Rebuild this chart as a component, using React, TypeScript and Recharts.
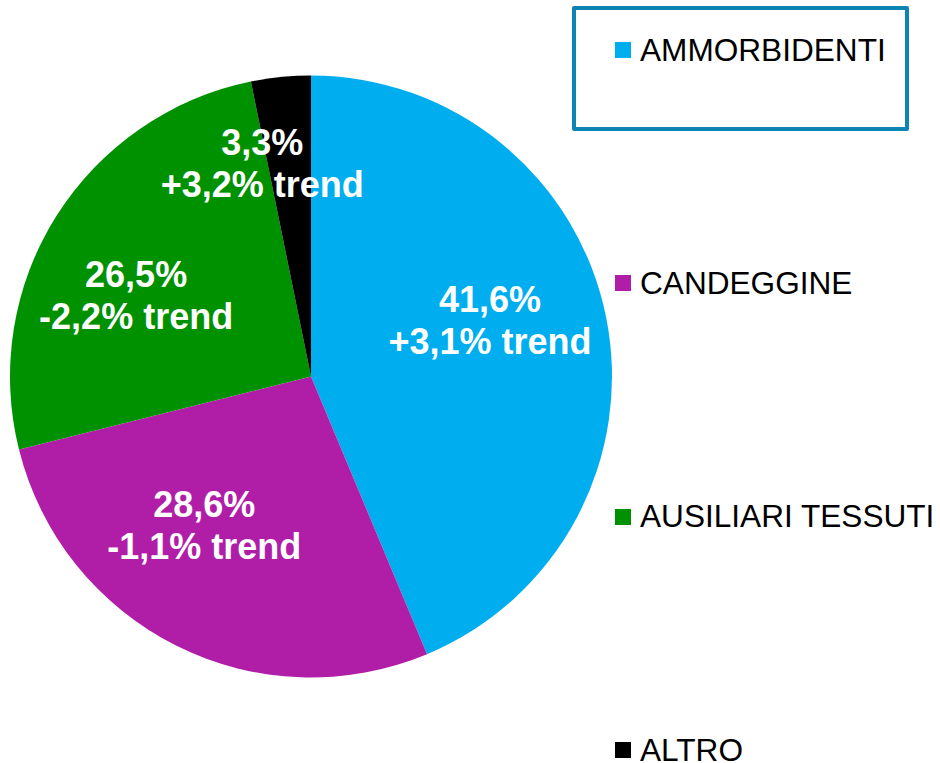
import { PieChart, Pie, Cell, Legend } from 'recharts';

const categories = ['AMMORBIDENTI', 'CANDEGGINE', 'AUSILIARI TESSUTI', 'ALTRO'];
// slice sizes as drawn in the original (its angles differ a little from the printed labels)
const values = [43.7, 27.4, 25.7, 3.2];
const shareLabels = ['41,6%', '28,6%', '26,5%', '3,3%'];
const trends = ['+3,1%', '-1,1%', '-2,2%', '+3,2%'];
const colors = ['#00AEEF', '#B01EA8', '#009100', '#000000'];

// small per-slice nudges so the labels sit where the original has them
const labelNudge = [
  [-4, -7],
  [-23, -5],
  [-17, 31],
  [-30, -15],
];

const data = categories.map((name, i) => ({ name, value: values[i] }));

const FONT = '"Liberation Sans", Arial, sans-serif';
const RADIAN = Math.PI / 180;

const renderLabel = (props: any) => {
  const { cx, cy, midAngle, outerRadius, index } = props;
  const r = outerRadius * 0.62;
  const x = cx + r * Math.cos(-midAngle * RADIAN) + labelNudge[index][0];
  const y = cy + r * Math.sin(-midAngle * RADIAN) + labelNudge[index][1];
  return (
    <text
      x={x}
      y={y}
      fill="#fff"
      textAnchor="middle"
      fontFamily={FONT}
      fontSize={36}
      fontWeight="bold"
    >
      <tspan x={x} dy={-21}>{shareLabels[index]}</tspan>
      <tspan x={x} dy={42}>{trends[index] + ' trend'}</tspan>
    </text>
  );
};

const renderLegend = () => (
  <div style={{ position: 'relative', width: 940, height: 763, fontFamily: FONT }}>
    <div
      style={{
        position: 'absolute',
        left: 572,
        top: 6,
        width: 329,
        height: 117,
        border: '4px solid #0E84B5',
        borderRadius: 2,
      }}
    />
    {categories.map((name, i) => (
      <div
        key={name}
        style={{
          position: 'absolute',
          left: 615,
          top: 50 + i * 233.4 - 20,
          height: 40,
          display: 'flex',
          alignItems: 'center',
          whiteSpace: 'nowrap',
        }}
      >
        <span style={{ width: 16, height: 16, background: colors[i], display: 'inline-block' }} />
        <span style={{ marginLeft: 9, fontSize: 31.6, color: '#000' }}>{name}</span>
      </div>
    ))}
  </div>
);

export default function App() {
  return (
    <div style={{ position: 'absolute', left: 0, top: 0, width: 940, height: 763, background: '#fff' }}>
      <PieChart width={940} height={763} margin={{ top: 0, right: 0, bottom: 0, left: 0 }}>
        <Pie
          data={data}
          dataKey="value"
          nameKey="name"
          cx={311}
          cy={376.5}
          outerRadius={301}
          startAngle={90}
          endAngle={-270}
          stroke="none"
          labelLine={false}
          label={renderLabel}
          isAnimationActive={false}
        >
          {data.map((_, i) => (
            <Cell key={`cell-${i}`} fill={colors[i]} />
          ))}
        </Pie>
        <Legend
          content={renderLegend}
          wrapperStyle={{ left: 0, top: 0, width: 940, height: 763, pointerEvents: 'none' }}
        />
      </PieChart>
    </div>
  );
}
